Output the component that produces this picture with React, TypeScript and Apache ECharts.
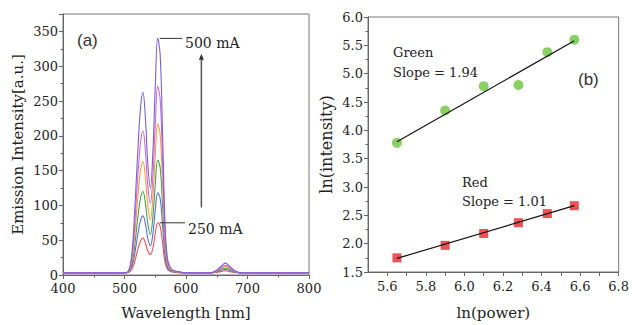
import React, { useEffect, useRef } from "react";
import * as echarts from "echarts";

// ---- Panel (a): emission spectra ----
const wavelengths = [400, 500, 506, 510, 514, 518, 522, 526, 530, 534, 538, 542, 546, 550, 554, 558, 562, 566, 570, 575, 580, 590, 600, 640, 648, 654, 660, 664, 668, 674, 680, 690, 800];
const spec250 = [3, 3, 3.5, 6, 12, 24, 38, 49, 53, 46, 34, 29, 38, 60, 75, 70, 45, 18, 8, 5, 4, 3, 3, 3, 3.5, 4.5, 5.5, 6, 5.5, 4.5, 3.5, 3, 3];
const spec300 = [3, 3, 4, 8, 18, 38, 60, 78, 85, 73, 52, 42, 58, 93, 118, 110, 70, 26, 10, 6, 4.5, 3.5, 3, 3, 4, 6, 7.5, 8, 7.5, 6, 4, 3, 3];
const spec350 = [3, 3, 4, 10, 25, 53, 85, 110, 120, 103, 73, 58, 82, 130, 165, 154, 98, 36, 13, 7, 5, 3.5, 3, 3, 4.5, 7, 9, 10, 9, 7, 4.5, 3, 3];
const spec400 = [3, 3, 4.5, 12, 33, 72, 115, 150, 163, 140, 99, 79, 110, 172, 217, 202, 128, 47, 16, 8, 5.5, 4, 3, 3, 5, 8, 11, 12, 11, 8, 5, 3, 3];
const spec450 = [3, 3, 5, 14, 42, 92, 146, 190, 207, 178, 127, 103, 140, 215, 271, 252, 160, 58, 19, 9, 6, 4, 3, 3, 5.5, 9, 13, 14, 13, 9, 5.5, 3, 3];
const spec500 = [3, 3, 5.5, 17, 52, 116, 184, 240, 262, 225, 158, 125, 174, 270, 340, 316, 200, 72, 23, 10, 6.5, 4.5, 3, 3, 6, 10, 15, 17, 15, 10, 6, 3, 3];
const spectra = [spec250, spec300, spec350, spec400, spec450, spec500];
const specColors = ["#ff4d4d", "#5b6ee1", "#3fa34d", "#ff9a3c", "#d06ad3", "#7a5ee0"];
const peak500: [number, number] = [554, 340];
const peak250: [number, number] = [554, 75];
const arrowX = 625;
const arrowFrom = 97;
const arrowTo = 318;

// ---- Panel (b): ln(intensity) vs ln(power) ----
const lnPower = [5.65, 5.9, 6.1, 6.28, 6.43, 6.57];
const lnGreen = [3.78, 4.35, 4.78, 4.8, 5.38, 5.6];
const lnRed = [1.75, 1.97, 2.18, 2.37, 2.53, 2.67];
const fitX = [5.65, 6.57];
const greenFit = [3.8, 5.58];
const redFit = [1.74, 2.67];

const SERIF = "DejaVu Serif";
const SANS = "Liberation Sans";

export default function App() {
  const ref = useRef<HTMLDivElement>(null);
  useEffect(() => {
    if (!ref.current) return;
    const chart = echarts.init(ref.current, undefined, { renderer: "svg" });
    const axisCommon = {
      axisLine: { show: true, lineStyle: { color: "#666", width: 1 } },
      axisTick: { show: true, length: 4, lineStyle: { color: "#666" } },
      minorTick: { show: true, splitNumber: 2, length: 2.5, lineStyle: { color: "#666" } },
      splitLine: { show: false },
      axisLabel: { color: "#222", fontFamily: SERIF, fontSize: 13, margin: 5 },
      nameTextStyle: { color: "#222", fontFamily: SERIF, fontSize: 15 },
      nameLocation: "middle" as const,
    };
    const option: any = {
      animation: false,
      grid: [
        { left: 63, top: 14, width: 246, height: 263, show: true, borderColor: "#777", borderWidth: 1 },
        { left: 368, top: 17, width: 254, height: 261, show: true, borderColor: "#777", borderWidth: 1 },
      ],
      xAxis: [
        {
          ...axisCommon,
          gridIndex: 0,
          type: "value",
          min: 400,
          max: 800,
          interval: 100,
          name: "Wavelength [nm]",
          nameGap: 30,
          axisLabel: { ...axisCommon.axisLabel, margin: 7 },
        },
        {
          ...axisCommon,
          gridIndex: 1,
          type: "value",
          min: 5.5,
          max: 6.8,
          interval: 0.1,
          minorTick: { show: false },
          name: "ln(power)",
          nameGap: 33,
          axisLabel: {
            ...axisCommon.axisLabel,
            margin: 8,
            showMinLabel: false,
            formatter: (v: number) => {
              const k = Math.round(v * 10);
              return k % 2 === 0 ? v.toFixed(1) : "";
            },
          },
        },
      ],
      yAxis: [
        {
          ...axisCommon,
          gridIndex: 0,
          type: "value",
          min: 0,
          max: 375,
          interval: 50,
          name: "Emission Intensity[a.u.]",
          nameGap: 38,
          axisLabel: { ...axisCommon.axisLabel, showMaxLabel: false },
        },
        {
          ...axisCommon,
          gridIndex: 1,
          type: "value",
          min: 1.5,
          max: 6.0,
          interval: 0.5,
          name: "ln(intensity)",
          nameGap: 34,
          nameTextStyle: { ...axisCommon.nameTextStyle, fontSize: 16 },
          axisLabel: { ...axisCommon.axisLabel, formatter: (v: number) => v.toFixed(1) },
        },
      ],
      series: [
        ...spectra.map((s, i) => ({
          type: "line",
          xAxisIndex: 0,
          yAxisIndex: 0,
          data: wavelengths.map((w, j) => [w, s[j]]),
          showSymbol: false,
          smooth: 0.4,
          lineStyle: { color: specColors[i], width: 1.1 },
          itemStyle: { color: specColors[i] },
          z: 2 + i,
        })),
        {
          type: "scatter",
          xAxisIndex: 1,
          yAxisIndex: 1,
          data: lnPower.map((x, i) => [x, lnGreen[i]]),
          symbol: "circle",
          symbolSize: 10,
          itemStyle: { color: "#6cc43c" },
          z: 2,
        },
        {
          type: "scatter",
          xAxisIndex: 1,
          yAxisIndex: 1,
          data: lnPower.map((x, i) => [x, lnRed[i]]),
          symbol: "rect",
          symbolSize: 9,
          itemStyle: { color: "#e8262b" },
          z: 2,
        },
        {
          type: "line",
          xAxisIndex: 1,
          yAxisIndex: 1,
          data: fitX.map((x, i) => [x, greenFit[i]]),
          showSymbol: false,
          lineStyle: { color: "#111", width: 1.2 },
          z: 5,
        },
        {
          type: "line",
          xAxisIndex: 1,
          yAxisIndex: 1,
          data: fitX.map((x, i) => [x, redFit[i]]),
          showSymbol: false,
          lineStyle: { color: "#111", width: 1.2 },
          z: 5,
        },
      ],
    };
    chart.setOption(option);

    const p500 = chart.convertToPixel({ gridIndex: 0 }, peak500) as number[];
    const p250 = chart.convertToPixel({ gridIndex: 0 }, peak250) as number[];
    const a0 = chart.convertToPixel({ gridIndex: 0 }, [arrowX, arrowFrom]) as number[];
    const a1 = chart.convertToPixel({ gridIndex: 0 }, [arrowX, arrowTo]) as number[];

    const txt = (text: string, x: number, y: number, size: number, family: string, color = "#222") => ({
      type: "text",
      x,
      y,
      style: { text, fill: color, fontSize: size, fontFamily: family, textVerticalAlign: "middle", textAlign: "left" },
      z: 20,
    });

    chart.setOption({
      graphic: [
        txt("(a)", 77, 40, 17, SANS, "#333"),
        txt("500 mA", 185, 43, 14, SERIF),
        txt("250 mA", 188, 229, 14, SERIF),
        txt("Green", 393, 52, 13, SERIF),
        txt("Slope = 1.94", 393, 72, 13, SERIF),
        txt("Red", 462, 182, 13, SERIF),
        txt("Slope = 1.01", 462, 201, 13, SERIF),
        txt("(b)", 578, 79, 17, SANS, "#333"),
        {
          type: "line",
          shape: { x1: p500[0] + 2, y1: p500[1], x2: 182, y2: p500[1] },
          style: { stroke: "#333", lineWidth: 1 },
          z: 20,
        },
        {
          type: "line",
          shape: { x1: p250[0] + 2, y1: p250[1], x2: 185, y2: p250[1] },
          style: { stroke: "#333", lineWidth: 1 },
          z: 20,
        },
        {
          type: "line",
          shape: { x1: a0[0], y1: a0[1], x2: a1[0], y2: a1[1] + 4 },
          style: { stroke: "#555", lineWidth: 1.5 },
          z: 20,
        },
        {
          type: "polygon",
          shape: { points: [[a1[0], a1[1]], [a1[0] - 2.5, a1[1] + 6], [a1[0] + 2.5, a1[1] + 6]] },
          style: { fill: "#333" },
          z: 20,
        },
      ],
    });

    return () => chart.dispose();
  }, []);
  return (
    <div
      ref={ref}
      style={{ position: "absolute", left: 0, top: 0, width: 632, height: 325, background: "#fff" }}
    />
  );
}
